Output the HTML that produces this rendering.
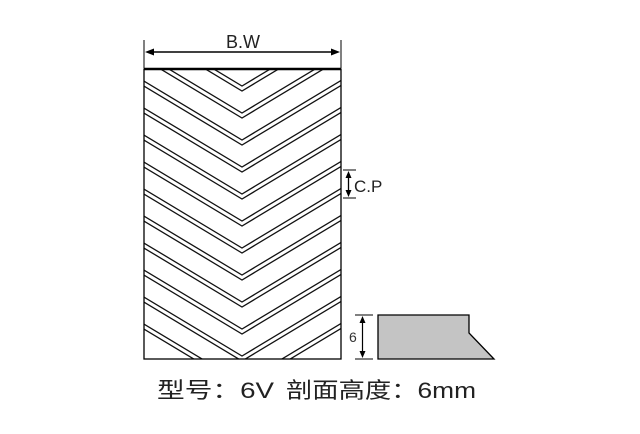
<!DOCTYPE html>
<html><head><meta charset="utf-8"><style>
html,body{margin:0;padding:0;background:#fff;width:640px;height:434px;overflow:hidden}
</style></head><body>
<svg width="640" height="434" viewBox="0 0 640 434" xmlns="http://www.w3.org/2000/svg">
<defs>
<clipPath id="c"><rect x="144" y="69" width="197" height="290"/></clipPath>
</defs>
<g clip-path="url(#c)" fill="none" stroke="#111" stroke-width="1.3">
<path d="M84,-63 L242,32 L400,-63"/><path d="M84,-58 L242,37 L400,-58"/>
<path d="M84,-36 L242,59 L400,-36"/><path d="M84,-31 L242,64 L400,-31"/>
<path d="M84,-9 L242,86 L400,-9"/><path d="M84,-4 L242,91 L400,-4"/>
<path d="M84,18 L242,113 L400,18"/><path d="M84,23 L242,118 L400,23"/>
<path d="M84,45 L242,140 L400,45"/><path d="M84,50 L242,145 L400,50"/>
<path d="M84,72 L242,167 L400,72"/><path d="M84,77 L242,172 L400,77"/>
<path d="M84,99 L242,194 L400,99"/><path d="M84,104 L242,199 L400,104"/>
<path d="M84,126 L242,221 L400,126"/><path d="M84,131 L242,226 L400,131"/>
<path d="M84,153 L242,248 L400,153"/><path d="M84,158 L242,253 L400,158"/>
<path d="M84,180 L242,275 L400,180"/><path d="M84,185 L242,280 L400,185"/>
<path d="M84,207 L242,302 L400,207"/><path d="M84,212 L242,307 L400,212"/>
<path d="M84,234 L242,329 L400,234"/><path d="M84,239 L242,334 L400,239"/>
<path d="M84,261 L242,356 L400,261"/><path d="M84,266 L242,361 L400,266"/>
<path d="M84,288 L242,383 L400,288"/><path d="M84,293 L242,388 L400,293"/>
</g>
<rect x="144" y="69" width="197" height="290" fill="none" stroke="#000" stroke-width="1.3"/>
<line x1="144" y1="69" x2="341" y2="69" stroke="#000" stroke-width="2.5"/>
<line x1="144" y1="40" x2="144" y2="68" stroke="#000" stroke-width="1"/>
<line x1="341" y1="40" x2="341" y2="68" stroke="#000" stroke-width="1"/>
<line x1="152" y1="52" x2="333" y2="52" stroke="#000" stroke-width="1.6"/>
<path d="M145,52 L154,48.5 L154,55.5 Z"/><path d="M340,52 L331,48.5 L331,55.5 Z"/>
<text x="243" y="48" text-anchor="middle" font-family="Liberation Sans, sans-serif" font-size="18" fill="#222">B.W</text>
<line x1="343" y1="170" x2="356" y2="170" stroke="#000" stroke-width="1"/>
<line x1="343" y1="198" x2="356" y2="198" stroke="#000" stroke-width="1"/>
<line x1="348.5" y1="175" x2="348.5" y2="193" stroke="#000" stroke-width="1.3"/>
<path d="M348.5,171 L345.5,178 L351.5,178 Z"/><path d="M348.5,197 L345.5,190 L351.5,190 Z"/>
<text x="354" y="192" font-family="Liberation Sans, sans-serif" font-size="17" fill="#222">C.P</text>
<line x1="355" y1="315" x2="373" y2="315" stroke="#000" stroke-width="1"/>
<line x1="355" y1="359" x2="373" y2="359" stroke="#000" stroke-width="1"/>
<line x1="362.5" y1="320" x2="362.5" y2="354" stroke="#000" stroke-width="1.2"/>
<path d="M362.5,316 L359.5,323 L365.5,323 Z"/><path d="M362.5,358 L359.5,351 L365.5,351 Z"/>
<text x="349" y="342" font-family="Liberation Sans, sans-serif" font-size="14" fill="#333">6</text>
<path d="M378,315 L469,315 L469,333 L494,359 L378,359 Z" fill="#c4c4c4" stroke="#000" stroke-width="1.3"/>
<text x="157" y="398" font-family="Liberation Sans, 'Noto Sans CJK SC', sans-serif" font-size="22" fill="#222" textLength="117" lengthAdjust="spacingAndGlyphs">型号：6V</text>
<text x="286" y="398" font-family="Liberation Sans, 'Noto Sans CJK SC', sans-serif" font-size="22" fill="#222" textLength="190" lengthAdjust="spacingAndGlyphs">剖面高度：6mm</text>
</svg>
</body></html>
